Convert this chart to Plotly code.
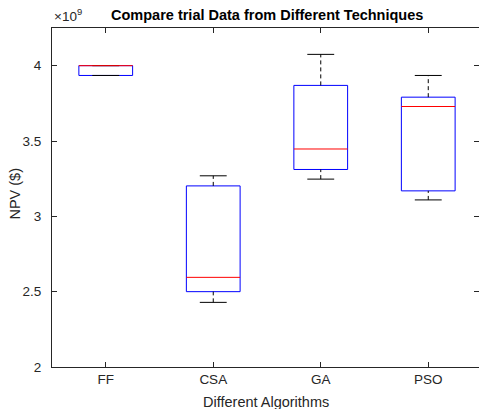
import plotly.graph_objects as go

# Data (NPV in units of 1e9 $)
categories = ["FF", "CSA", "GA", "PSO"]
positions = [1, 2, 3, 4]
q1_vals = [3.935, 2.500, 3.311, 3.169]
median_vals = [4.000, 2.595, 3.447, 3.729]
q3_vals = [4.000, 3.202, 3.869, 3.791]
lower_whisker = [3.935, 2.429, 3.247, 3.109]
upper_whisker = [4.000, 3.269, 4.075, 3.935]
y_ticks = [2, 2.5, 3, 3.5, 4]
y_tick_labels = ["2", "2.5", "3", "3.5", "4"]

FONT = "Arial, Liberation Sans, Helvetica, sans-serif"
AX = "#262626"
BOX_W = 0.5
CAP_W = 0.25

fig = go.Figure()

# Boxes (blue rectangles from q1 to q3)
bx, by = [], []
for p, q1, q3 in zip(positions, q1_vals, q3_vals):
    l, r = p - BOX_W / 2, p + BOX_W / 2
    bx += [l, r, r, l, l, None]
    by += [q1, q1, q3, q3, q1, None]
fig.add_trace(go.Scatter(x=bx, y=by, mode="lines",
                         line=dict(color="#0000ff", width=1),
                         showlegend=False, hoverinfo="skip"))

# Whiskers: dashed vertical lines and solid caps (black)
wx, wy, cx, cy = [], [], [], []
for p, lo, q1, q3, hi in zip(positions, lower_whisker, q1_vals, q3_vals, upper_whisker):
    wx += [p, p, None, p, p, None]
    wy += [q3, hi, None, lo, q1, None]
    cx += [p - CAP_W / 2, p + CAP_W / 2, None, p - CAP_W / 2, p + CAP_W / 2, None]
    cy += [hi, hi, None, lo, lo, None]
fig.add_trace(go.Scatter(x=wx, y=wy, mode="lines",
                         line=dict(color="#000000", width=1, dash="4px,3px"),
                         showlegend=False, hoverinfo="skip"))
fig.add_trace(go.Scatter(x=cx, y=cy, mode="lines",
                         line=dict(color="#000000", width=1),
                         showlegend=False, hoverinfo="skip"))

# Medians (red)
mx, my = [], []
for p, m in zip(positions, median_vals):
    mx += [p - BOX_W / 2, p + BOX_W / 2, None]
    my += [m, m, None]
fig.add_trace(go.Scatter(x=mx, y=my, mode="lines",
                         line=dict(color="#ff0000", width=1),
                         showlegend=False, hoverinfo="skip"))

fig.update_layout(
    width=479, height=409,
    margin=dict(l=52, r=0, t=28, b=42),
    paper_bgcolor="white", plot_bgcolor="white",
    font=dict(family=FONT, size=13.5, color=AX),
    xaxis=dict(range=[0.5, 0.5 + 427 / 107.5], tickvals=positions, ticktext=categories,
               showgrid=False, zeroline=False, showline=True, linecolor=AX, linewidth=1,
               ticks="inside", ticklen=5, tickcolor=AX, mirror="ticks",
               tickfont=dict(size=13.5, color=AX)),
    yaxis=dict(range=[2, 4.25], tickvals=y_ticks, ticktext=y_tick_labels,
               showgrid=False, zeroline=False, showline=True, linecolor=AX, linewidth=1,
               ticks="inside", ticklen=5, tickcolor=AX, mirror="ticks",
               tickfont=dict(size=13.5, color=AX), ticklabelstandoff=7),
    annotations=[
        dict(text="<b>Compare trial Data from Different Techniques</b>", xref="paper", yref="paper",
             x=0.5035, y=1.038, xanchor="center", yanchor="middle", showarrow=False,
             font=dict(size=14.5, color="#000000")),
        dict(text="×10<sup>9</sup>", xref="paper", yref="paper", x=0, y=1.0,
             xanchor="left", yanchor="bottom", yshift=2, showarrow=False,
             font=dict(size=13.5, color=AX)),
        dict(text="Different Algorithms", xref="paper", yref="paper",
             x=0.502, y=-0.1018, xanchor="center", yanchor="middle", showarrow=False,
             font=dict(size=14.5, color=AX)),
        dict(text="NPV ($)", xref="paper", yref="paper", textangle=-90,
             x=-0.0855, y=0.513, xanchor="center", yanchor="middle", showarrow=False,
             font=dict(size=14.5, color=AX)),
    ],
)

fig.write_html("out.html")
